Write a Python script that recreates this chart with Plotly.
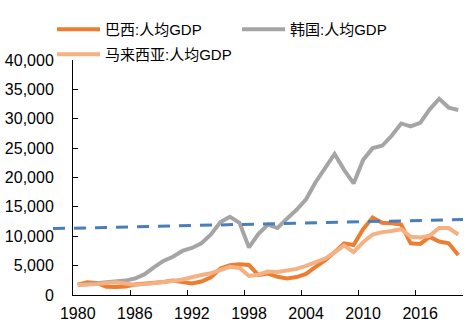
import plotly.graph_objects as go

years = list(range(1980, 2021))

brazil = [1750, 2150, 2050, 1400, 1350, 1450, 1800, 1900, 2000, 2200,
          2450, 2200, 1950, 2300, 3000, 4500, 5050, 5250, 5100, 3400,
          3650, 3100, 2800, 3050, 3600, 4800, 5900, 7300, 8800, 8500,
          11200, 13200, 12300, 12200, 12000, 8800, 8700, 9900, 9100, 8800,
          6800]

korea = [1700, 1850, 1950, 2150, 2350, 2450, 2800, 3500, 4700, 5800,
         6500, 7500, 8000, 8800, 10300, 12400, 13300, 12300, 8100, 10400,
         12000, 11400, 13000, 14500, 16300, 19200, 21600, 24000, 21300, 19000,
         23000, 25000, 25400, 27100, 29200, 28700, 29300, 31600, 33400, 31900,
         31500]

malaysia = [1700, 1750, 1850, 2050, 2150, 1950, 1750, 1850, 2000, 2200,
            2400, 2650, 3100, 3400, 3700, 4300, 4800, 4600, 3250, 3450,
            4000, 3900, 4150, 4450, 4950, 5550, 6200, 7250, 8450, 7300,
            9000, 10300, 10700, 10900, 11200, 9900, 9800, 10100, 11400, 11400,
            10300]

# reference (dashed) line: start/end position in years and value
threshold_years = [1977.4, 2020.5]
threshold_values = [11300, 12850]

names = ["巴西:人均GDP", "韩国:人均GDP", "马来西亚:人均GDP"]
colors = ["#ED7D31", "#A5A5A5", "#F4B183"]
legend_ids = ["legend", "legend2", "legend3"]

FONT = "Liberation Sans, Arial, Noto Sans CJK SC, sans-serif"
W, H = 466, 328

fig = go.Figure()
for name, vals, col, lg in zip(names, [brazil, korea, malaysia], colors, legend_ids):
    fig.add_trace(go.Scatter(
        x=[str(y) for y in years], y=vals, mode="lines", name=name,
        line=dict(color=col, width=4), legend=lg,
    ))

n = len(years)
def to_paper(yr):
    idx = yr - years[0]
    return (idx + 0.5) / n

fig.add_shape(
    type="line", xref="paper", yref="y",
    x0=to_paper(threshold_years[0]), x1=to_paper(threshold_years[1]),
    y0=threshold_values[0], y1=threshold_values[1],
    line=dict(color="#4A7EBB", width=3, dash="12px,9px"),
    layer="above",
)

def legend_at(xpx, ypx):
    return dict(
        orientation="h", xref="container", yref="container",
        x=xpx / W, y=1 - ypx / H, xanchor="left", yanchor="top",
        font=dict(size=15, family=FONT, color="#000000"),
        itemwidth=43, bgcolor="rgba(0,0,0,0)",
    )

fig.update_layout(
    width=W, height=H,
    margin=dict(l=73, r=3, t=60, b=33, autoexpand=False),
    paper_bgcolor="white", plot_bgcolor="white",
    font=dict(family=FONT, size=16, color="#000000"),
    showlegend=True,
    legend=legend_at(52, 13),
    legend2=legend_at(237, 13),
    legend3=legend_at(52, 38),
    xaxis=dict(
        type="category", tickson="boundaries", dtick=6, tickangle=0,
        ticks="inside", ticklen=5, tickcolor="#000",
        showline=True, linecolor="#000", linewidth=1,
        showgrid=False, zeroline=False, ticklabelstandoff=4,
        tickfont=dict(size=16, family=FONT),
        range=[-0.5, n - 0.5],
    ),
    yaxis=dict(
        range=[0, 40000], dtick=5000, tickformat=",",
        ticks="inside", ticklen=5, tickcolor="#000",
        showline=True, linecolor="#000", linewidth=1,
        showgrid=False, zeroline=False, ticklabelstandoff=15,
        tickfont=dict(size=16, family=FONT),
    ),
)

fig.write_html("out.html")
